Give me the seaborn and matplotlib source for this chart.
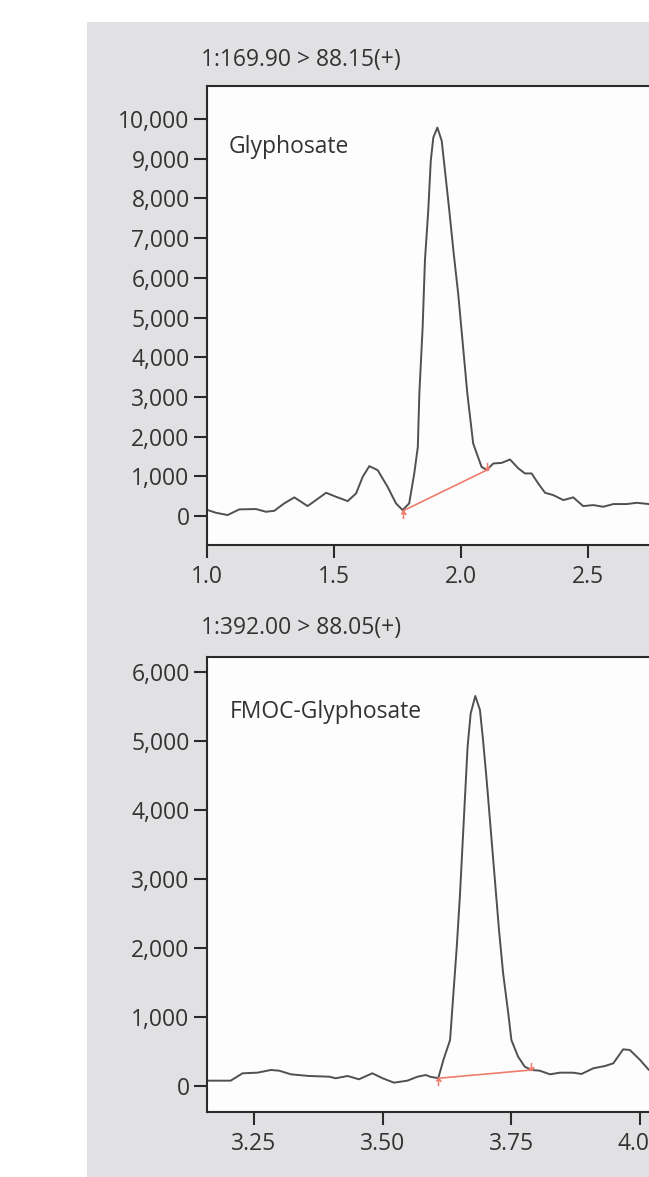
import matplotlib
matplotlib.use("Agg")
import matplotlib.pyplot as plt
import seaborn as sns
import numpy as np
from matplotlib.patches import Rectangle
from matplotlib.ticker import FuncFormatter

# ---------------- data ----------------
# Top trace: 1:169.90 > 88.15(+)  (retention time, counts)
top_title = "1:169.90 > 88.15(+)"
top_label = "Glyphosate"
top_t = [1.003, 1.035, 1.081, 1.127, 1.193, 1.232, 1.265, 1.304, 1.344, 1.396,
         1.429, 1.469, 1.508, 1.554, 1.587, 1.613, 1.639, 1.672, 1.711, 1.744,
         1.770, 1.796, 1.816, 1.830, 1.836, 1.849, 1.858, 1.871, 1.881, 1.891,
         1.907, 1.924, 1.937, 1.954, 1.970, 1.989, 2.007, 2.025, 2.048, 2.062,
         2.081, 2.101, 2.127, 2.160, 2.193, 2.226, 2.252, 2.278, 2.304, 2.331,
         2.363, 2.403, 2.442, 2.481, 2.521, 2.560, 2.600, 2.652, 2.692, 2.740,
         2.780]
top_i = [151, 83, 25, 168, 176, 108, 133, 319, 470, 251,
         402, 586, 485, 377, 570, 988, 1257, 1156, 736, 319,
         151, 319, 1073, 1741, 3083, 4757, 6433, 7690, 8946, 9532,
         9783, 9449, 8695, 7690, 6685, 5597, 4340, 3083, 1827, 1576,
         1239, 1156, 1324, 1339, 1425, 1199, 1073, 1073, 822, 586,
         528, 402, 470, 251, 276, 234, 302, 302, 334, 302,
         300]
top_base_t = [1.770, 2.101]
top_base_i = [126, 1156]
top_yticks = [0, 1000, 2000, 3000, 4000, 5000, 6000, 7000, 8000, 9000, 10000]
top_xticks = [1.0, 1.5, 2.0, 2.5]

# Bottom trace: 1:392.00 > 88.05(+)
bot_title = "1:392.00 > 88.05(+)"
bot_label = "FMOC-Glyphosate"
bot_t = [3.160, 3.205, 3.228, 3.257, 3.283, 3.299, 3.322, 3.357, 3.396, 3.409,
         3.432, 3.454, 3.480, 3.500, 3.522, 3.548, 3.568, 3.584, 3.592, 3.608,
         3.618, 3.631, 3.637, 3.644, 3.650, 3.655, 3.660, 3.665, 3.671, 3.680,
         3.689, 3.695, 3.702, 3.710, 3.718, 3.726, 3.734, 3.744, 3.750, 3.763,
         3.776, 3.789, 3.805, 3.825, 3.844, 3.870, 3.886, 3.909, 3.932, 3.948,
         3.967, 3.980, 4.000, 4.017, 4.040]
bot_i = [77, 77, 184, 193, 232, 222, 169, 145, 135, 112,
         145, 97, 184, 112, 48, 77, 135, 159, 135, 112,
         377, 667, 1294, 2019, 2744, 3468, 4193, 4917, 5400, 5652,
         5449, 5014, 4434, 3710, 2985, 2260, 1632, 1053, 667, 425,
         280, 232, 222, 169, 193, 193, 174, 256, 290, 329,
         531, 522, 377, 232, 150]
bot_base_t = [3.608, 3.789]
bot_base_i = [112, 232]
bot_yticks = [0, 1000, 2000, 3000, 4000, 5000, 6000]
bot_xticks = [3.25, 3.50, 3.75, 4.00]

# ---------------- style ----------------
sns.set_style("white")
plt.rcParams["font.family"] = ["Open Sans", "DejaVu Sans"]

W, H = 649, 1177
fig = plt.figure(figsize=(W / 100, H / 100), dpi=100)
fig.patch.set_facecolor("white")

# grey panel (behind the axes)
fig.patches.append(Rectangle((87 / W, 0), 1 - 87 / W, (H - 22) / H,
                             transform=fig.transFigure, facecolor="#e1e1e3",
                             edgecolor="none", zorder=-10))

trace_col = "#505050"
base_col = "#ee7d6c"
txt_col = "#333333"
FS = 16.5

# peak start / end markers (small arrows with a tail)
start_marker = [(-0.35, -0.45), (0, 0), (0.35, -0.45), (0, 0), (0, -1.2)]
end_marker = [(-0.35, 0.45), (0, 0), (0.35, 0.45), (0, 0), (0, 1.2)]


def px_axes(left, top, right, bottom):
    ax = fig.add_axes([left / W, (H - bottom) / H, (right - left) / W, (bottom - top) / H])
    ax.set_zorder(5)
    return ax


def style_axes(ax, yticks, xticks, xfmt):
    ax.set_facecolor("#fdfdfd")
    for s in ["left", "bottom", "top"]:
        ax.spines[s].set_visible(True)
        ax.spines[s].set_linewidth(1.5)
        ax.spines[s].set_color("#2a2a2a")
    ax.spines["right"].set_visible(False)
    ax.set_yticks(yticks)
    ax.set_xticks(xticks)
    ax.yaxis.set_major_formatter(FuncFormatter(lambda v, p: f"{int(v):,}"))
    ax.xaxis.set_major_formatter(FuncFormatter(xfmt))
    ax.tick_params(axis="both", direction="out", length=9.5, width=1.5, color="#2a2a2a",
                   labelsize=FS, labelcolor=txt_col, left=True, bottom=True)
    ax.tick_params(axis="y", pad=3)
    ax.tick_params(axis="x", pad=5)
    ax.set_xlabel("")
    ax.set_ylabel("")


def draw_markers(ax, bt, bi):
    ax.plot(bt[:1], bi[:1], ls="none", marker=start_marker, ms=11, mew=1.1,
            mfc="none", color=base_col)
    ax.plot(bt[1:], bi[1:], ls="none", marker=end_marker, ms=11, mew=1.1,
            mfc="none", color=base_col)


# ---- top panel ----
ax1 = px_axes(207, 86, 207 + 254 * 2.0, 545)
sns.lineplot(x=top_t, y=top_i, ax=ax1, color=trace_col, lw=1.4, estimator=None, sort=False)
sns.lineplot(x=top_base_t, y=top_base_i, ax=ax1, color=base_col, lw=1.2, estimator=None, sort=False)
draw_markers(ax1, top_base_t, top_base_i)
ax1.set_xlim(1.0, 3.0)
ax1.set_ylim(-729, 10830)
style_axes(ax1, top_yticks, top_xticks, lambda v, p: f"{v:.1f}")
ax1.text(0.043, 0.867, top_label, transform=ax1.transAxes, fontsize=FS,
         color=txt_col, va="center", ha="left")
fig.text(201 / W, 1 - 60 / H, top_title, fontsize=FS, color=txt_col, va="center", ha="left")

# ---- bottom panel ----
ax2 = px_axes(207, 657, 207 + 515 * 1.041, 1112)
sns.lineplot(x=bot_t, y=bot_i, ax=ax2, color=trace_col, lw=1.4, estimator=None, sort=False)
sns.lineplot(x=bot_base_t, y=bot_base_i, ax=ax2, color=base_col, lw=1.2, estimator=None, sort=False)
draw_markers(ax2, bot_base_t, bot_base_i)
ax2.set_xlim(3.159, 4.2)
ax2.set_ylim(-377, 6217)
style_axes(ax2, bot_yticks, bot_xticks, lambda v, p: f"{v:.2f}")
ax2.text(0.043, 0.88, bot_label, transform=ax2.transAxes, fontsize=FS,
         color=txt_col, va="center", ha="left")
fig.text(201 / W, 1 - 628 / H, bot_title, fontsize=FS, color=txt_col, va="center", ha="left")

fig.savefig("out.png", dpi=100)
